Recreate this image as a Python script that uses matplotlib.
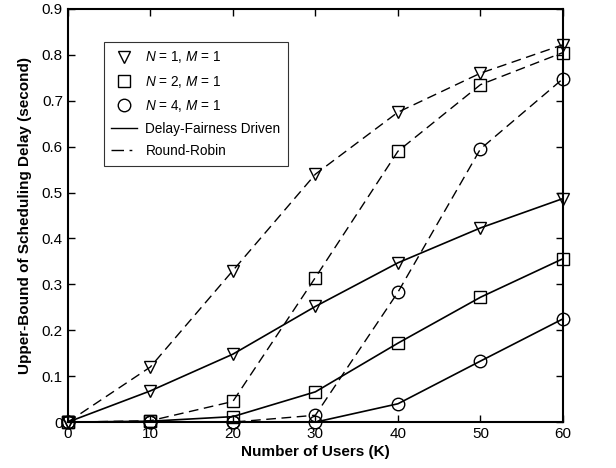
import numpy as np
import matplotlib.pyplot as plt
from matplotlib.lines import Line2D

plt.rcParams['font.family'] = ['Liberation Sans', 'DejaVu Sans']
plt.rcParams['mathtext.fontset'] = 'custom'
plt.rcParams['mathtext.it'] = 'Liberation Sans:italic'

users = [0, 10, 20, 30, 40, 50, 60]

# Delay-Fairness Driven
df_n1 = [0, 0.068, 0.148, 0.252, 0.347, 0.423, 0.487]
df_n2 = [0, 0.002, 0.012, 0.066, 0.172, 0.272, 0.356]
df_n4 = [0, 0.0, 0.0, 0.0, 0.040, 0.133, 0.225]

# Round-Robin
rr_n1 = [0, 0.120, 0.330, 0.540, 0.675, 0.760, 0.822]
rr_n2 = [0, 0.003, 0.045, 0.315, 0.590, 0.735, 0.805]
rr_n4 = [0, 0.0, 0.0, 0.015, 0.283, 0.595, 0.748]

fig = plt.figure(figsize=(6.16, 4.68), dpi=100)
ax = fig.add_axes([0.110, 0.098, 0.804, 0.883])

mk = dict(markersize=9, markerfacecolor='none', markeredgecolor='black', markeredgewidth=1.0)
dash = (0, (7, 4))

for ys, m in [(rr_n1, 'v'), (rr_n2, 's'), (rr_n4, 'o')]:
    ax.plot(users, ys, color='black', lw=1.0, linestyle=dash, marker=m, **mk, clip_on=False)
for ys, m in [(df_n1, 'v'), (df_n2, 's'), (df_n4, 'o')]:
    ax.plot(users, ys, color='black', lw=1.2, linestyle='-', marker=m, **mk, clip_on=False)

ax.set_xlim(0, 60)
ax.set_ylim(0, 0.9)
ax.set_xticks(users)
ax.set_yticks(np.arange(0, 0.91, 0.1))
ax.set_yticklabels(['0', '0.1', '0.2', '0.3', '0.4', '0.5', '0.6', '0.7', '0.8', '0.9'])
ax.tick_params(direction='in', top=True, right=True, labelsize=11, length=5, width=1)
for s in ax.spines.values():
    s.set_linewidth(1.5)

ax.set_xlabel('Number of Users (K)', fontsize=11, fontweight='bold', labelpad=3)
ax.set_ylabel('Upper-Bound of Scheduling Delay (second)', fontsize=11, fontweight='bold', labelpad=7)

handles = [
    Line2D([], [], linestyle='none', marker='v', **mk),
    Line2D([], [], linestyle='none', marker='s', **mk),
    Line2D([], [], linestyle='none', marker='o', **mk),
    Line2D([], [], color='black', lw=1.0),
    Line2D([], [], color='black', lw=1.0, linestyle=(0, (9, 4, 2, 4))),
]
labels = [r'$N$ = 1, $M$ = 1', r'$N$ = 2, $M$ = 1', r'$N$ = 4, $M$ = 1',
          'Delay-Fairness Driven', 'Round-Robin']
leg = ax.legend(handles, labels, loc='upper left', bbox_to_anchor=(0.073, 0.92),
                fontsize=9.8, frameon=True, fancybox=False, edgecolor='black',
                handlelength=1.9, handletextpad=0.6, borderpad=0.55,
                labelspacing=0.6, borderaxespad=0)
leg.get_frame().set_linewidth(0.8)

fig.savefig('out.png', dpi=100)
